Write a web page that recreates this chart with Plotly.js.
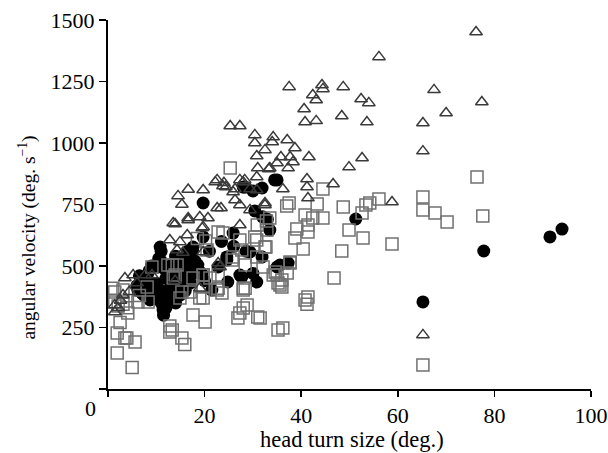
<!DOCTYPE html>
<html>
<head>
<meta charset="utf-8">
<script src="https://cdn.plot.ly/plotly-3.0.1.min.js"></script>
<style>html,body{margin:0;padding:0;background:#fff;}#chart{width:608px;height:453px;}</style>
</head>
<body>
<div id="chart"></div>
<script>
// Triangles (open)
const triX = [76.2,77.4,70.0,56.1,37.5,44.3,44.5,42.4,43.1,48.7,40.6,40.8,43.1,48.4,52.4,54.0,53.6,67.5,65.2,65.2,
  34.2,34.0,37.1,38.7,32.5,35.8,37.7,41.6,52.6,49.9,38.3,35.0,37.3,33.5,41.2,41.2,46.6,36.2,41.4,58.8,32.5,
  25.3,27.3,30.4,30.4,30.8,31.0,33.3,30.8,22.6,23.8,24.4,27.3,28.3,26.3,29.4,14.5,16.6,19.7,15.3,22.6,23.4,
  26.3,27.3,29.4,32.5,16.6,19.0,20.7,22.2,24.0,28.0,25.9,30.8,13.5,16.6,19.7,16.4,12.8,14.9,14.3,15.5,27.3,
  3.5,5.2,7.7,9.1,6.0,22.8,3.1,1.4,2.1,1.4,13.9,19.5,19.7,13.9,23.2,19.0,65.2,2.6,4.4];
const triY = [1451,1167,1122,1350,1228,1236,1220,1195,1175,1228,1138,1085,1090,1110,1179,1163,1085,1216,1081,967,
  1024,1004,1012,980,972,943,943,943,939,902,923,919,898,898,854,821,833,813,776,760,756,
  1069,1069,1033,1000,947,898,894,862,850,825,821,850,850,813,813,785,811,809,750,736,736,
  768,748,728,748,695,699,695,841,838,841,801,809,675,687,659,626,606,598,565,555,667,
  451,463,463,463,431,512,382,341,330,313,671,654,557,440,496,410,220,360,395];

// Squares (open)
const sqX = [65.2,65.2,67.7,70.2,44.5,48.7,54.2,53.4,56.1,52.6,49.9,52.8,58.8,48.4,46.8,41.4,37.5,37.0,43.3,40.8,
  42.4,44.5,41.4,39.1,38.7,41.4,40.4,33.5,32.8,32.5,37.7,34.2,37.1,35.2,36.0,76.4,77.6,65.2,25.3,1.4,
  1.4,2.5,3.5,5.6,1.9,5.0,6.2,8.3,13.3,13.9,12.8,12.8,15.3,15.9,15.3,4.1,1.9,3.9,17.6,20.1,
  22.6,23.6,28.0,26.9,28.0,28.8,27.3,31.5,35.2,30.9,30.4,22.8,23.8,27.3,27.7,20.5,25.7,28.4,30.8,32.1,
  34.6,37.7,36.0,35.6,21.1,19.7,22.8,17.0,14.9,19.0,28.0,31.0,19.7,36.2,40.8,41.2,20.2,18.5,30.8,32.9,
  32.7,12.4,19.7,22.8,25.9,28.4,35.0,1.0,3.1,8.1,9.1,14.3,13.5,17.6,19.7,13.3,2.1,3.1,4.0,6.5];
const sqY = [780,728,715,679,813,740,756,748,772,715,646,614,589,561,451,374,756,744,752,707,
  695,695,667,650,614,638,569,695,683,577,512,463,472,431,415,862,703,98,898,394,
  354,270,207,191,146,87,354,354,504,463,256,232,207,181,394,309,228,207,301,272,
  402,390,402,289,329,341,309,289,240,667,618,638,634,606,565,565,524,504,537,496,
  476,516,443,423,451,415,410,394,370,370,410,293,463,248,362,345,602,612,606,646,
  577,504,463,463,537,410,463,410,402,415,496,504,451,451,370,240,337,345,330,380];

// Filled circles
const circX = [19.7,10.8,28.0,30.0,34.5,28.4,31.9,30.4,32.0,33.0,35.0,24.6,27.3,30.0,30.8,28.6,22.8,24.8,18.6,19.4,
  17.6,33.5,25.9,19.7,29.4,31.9,24.6,35.6,37.3,19.0,17.0,14.9,27.7,21.5,13.9,16.8,14.9,14.9,10.4,8.1,
  8.1,10.8,11.4,8.7,17.0,17.6,51.3,35.0,65.2,77.8,91.5,94.0,10.0,12.0,11.0,13.0,12.0,9.0,11.0,13.0,
  15.0,12.0,7.0,6.0,9.0,11.0,12.0,10.0,7.0,21.0,23.5,26.0,14.0,16.0,15.0,13.0,15.5,17.0,11.5,12.5,
  14.0,16.0,9.5,8.5,10.5,13.0,18.0,16.5,17.5,20.0,6.5,7.5,6.2];
const circY = [756,577,821,805,850,821,817,724,700,690,496,537,463,470,435,560,496,435,504,470,
  470,646,634,618,557,537,524,504,512,476,484,496,455,402,455,443,382,524,496,463,
  415,402,321,362,496,577,691,850,354,561,618,650,430,450,520,470,380,400,350,420,
  440,330,440,420,500,560,480,370,390,560,600,580,540,520,470,400,410,430,300,360,
  350,400,430,480,530,500,520,560,565,440,460,380,400];

// Axis ticks
const xTickVals = [20, 40, 60, 80, 100];
const xTickText = ['20', '40', '60', '80', '100'];
const yTickVals = [250, 500, 750, 1000, 1250, 1500];
const yTickText = ['250', '500', '750', '1000', '1250', '1500'];

const serif = 'Liberation Serif, Times New Roman, serif';
const TICK_FS = 22;

const traces = [
  {x: circX, y: circY, type: 'scatter', mode: 'markers', name: 'circles',
   marker: {symbol: 'circle', size: 13, color: '#000', line: {width: 0}}},
  {x: sqX, y: sqY, type: 'scatter', mode: 'markers', name: 'squares',
   marker: {symbol: 'square-open', size: 12, color: '#707070', line: {width: 1.5}}},
  {x: triX, y: triY, type: 'scatter', mode: 'markers', name: 'triangles',
   marker: {symbol: 'triangle-up-open', size: 11, color: '#3a3a3a', line: {width: 1.5}}}
];

const layout = {
  width: 608, height: 453,
  margin: {l: 108, r: 17, t: 20, b: 64},
  paper_bgcolor: '#fff', plot_bgcolor: '#fff',
  showlegend: false,
  font: {family: serif, size: TICK_FS, color: '#000'},
  xaxis: {
    range: [0, 100], tickmode: 'array', tickvals: xTickVals, ticktext: xTickText,
    showgrid: false, zeroline: false, showline: true, linecolor: '#000', linewidth: 2,
    ticks: 'outside', ticklen: 6, tickwidth: 1.5, tickcolor: '#000', ticklabeloverflow: 'allow',
    minor: {tickmode: 'array', tickvals: [0], ticks: 'outside', ticklen: 6, tickwidth: 1.5, tickcolor: '#000', showgrid: false},
    tickfont: {family: serif, size: TICK_FS},
    fixedrange: true
  },
  yaxis: {
    range: [0, 1500], tickmode: 'array', tickvals: yTickVals, ticktext: yTickText, ticksuffix: '\u00a0',
    showgrid: false, zeroline: false, showline: true, linecolor: '#000', linewidth: 2,
    ticks: 'outside', ticklen: 7, tickwidth: 1.5, tickcolor: '#000',
    minor: {tickmode: 'array', tickvals: [0], ticks: 'outside', ticklen: 7, tickwidth: 1.5, tickcolor: '#000', showgrid: false},
    tickfont: {family: serif, size: TICK_FS},
    fixedrange: true
  },
  annotations: [
    {text: '0', xref: 'paper', yref: 'paper', x: -0.037, y: -0.052, xanchor: 'center', yanchor: 'middle',
     showarrow: false, borderpad: 0, font: {family: serif, size: TICK_FS, color: '#000'}},
    {text: 'head turn size (deg.)', xref: 'paper', yref: 'paper', x: 0.505, y: -0.138,
     xanchor: 'center', yanchor: 'middle', showarrow: false, borderpad: 0,
     font: {family: serif, size: 22.5, color: '#000'}},
    {text: 'angular velocity (deg. s<sup>−1</sup>)', xref: 'paper', yref: 'paper', x: -0.166, y: 0.41,
     xanchor: 'center', yanchor: 'middle', textangle: -90, showarrow: false, borderpad: 0,
     font: {family: serif, size: 19.5, color: '#000'}}
  ]
};

Plotly.newPlot('chart', traces, layout, {displayModeBar: false, staticPlot: true});
</script>
</body>
</html>
